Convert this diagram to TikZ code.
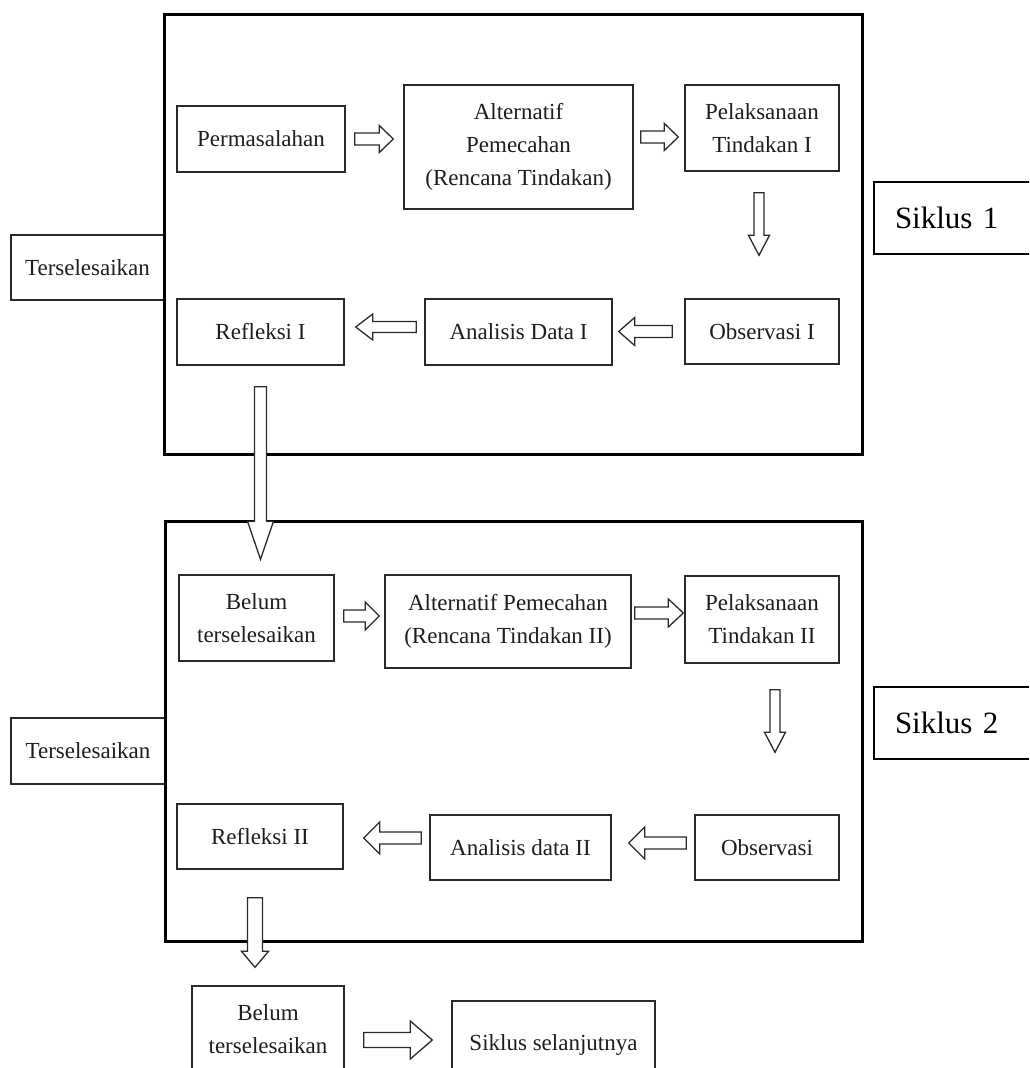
\documentclass[tikz,border=0pt]{standalone}
\usepackage{fontspec}
\setmainfont{Liberation Serif}
\usetikzlibrary{calc}
\definecolor{boxc}{HTML}{2A2A2A}
\definecolor{txt}{HTML}{1E1E1E}
\tikzset{
  box/.style={draw=boxc, line width=1.4pt, align=center, inner sep=0pt, text=txt,
    font=\fontsize{23}{33}\selectfont},
  frame/.style={draw=black, line width=3pt, inner sep=0pt},
  sik/.style={draw=black, line width=2pt, inner xsep=21pt, inner ysep=0pt, align=left,
    font=\fontsize{31}{36}\selectfont, anchor=west, minimum height=72pt},
  barrow/.style={draw=boxc, line width=1.3pt, fill=white, line join=miter},
  rarr/.style n args={3}{to path={let \p1=(\tikztostart),\p2=(\tikztotarget) in
    (\x1,\y1+#1) -- (\x2-#3,\y1+#1) -- (\x2-#3,\y1+#2) -- (\x2,\y1) -- (\x2-#3,\y1-#2) -- (\x2-#3,\y1-#1) -- (\x1,\y1-#1) -- cycle}},
  larr/.style n args={3}{to path={let \p1=(\tikztostart),\p2=(\tikztotarget) in
    (\x1,\y1+#1) -- (\x2+#3,\y1+#1) -- (\x2+#3,\y1+#2) -- (\x2,\y1) -- (\x2+#3,\y1-#2) -- (\x2+#3,\y1-#1) -- (\x1,\y1-#1) -- cycle}},
  darr/.style n args={3}{to path={let \p1=(\tikztostart),\p2=(\tikztotarget) in
    (\x1+#1,\y1) -- (\x1+#1,\y2+#3) -- (\x1+#2,\y2+#3) -- (\x1,\y2) -- (\x1-#2,\y2+#3) -- (\x1-#1,\y2+#3) -- (\x1-#1,\y1) -- cycle}},
}
\begin{document}
\begin{tikzpicture}[x=1pt,y=-1pt]
\clip (0,0) rectangle (1029,1068);
\fill[white] (0,0) rectangle (1029,1068);

% side boxes
\node[box, minimum width=153pt, minimum height=65pt] (ter1) at (87.5,267.5) {Terselesaikan};
\node[box, minimum width=154pt, minimum height=66pt] (ter2) at (88,751) {Terselesaikan};

% frames
\node[frame, minimum width=698pt, minimum height=440pt] (frame1) at (513,234) {};
\node[frame, minimum width=697pt, minimum height=420pt] (frame2) at (513.5,731) {};

% cycle labels
\node[sik, text width=123pt] (sik1) at (873,218) {Siklus 1};
\node[sik, text width=123pt] (sik2) at (873,722.5) {Siklus 2};

% cycle 1
\node[box, minimum width=168pt, minimum height=66pt] (perm) at (261,139) {Permasalahan};
\node[box, minimum width=229pt, minimum height=124pt] (alt1) at (518.5,147) {Alternatif\\Pemecahan\\(Rencana Tindakan)};
\node[box, minimum width=154pt, minimum height=86pt] (pel1) at (762,128) {Pelaksanaan\\Tindakan I};
\node[box, minimum width=154pt, minimum height=65pt] (obs1) at (762,331.5) {Observasi I};
\node[box, minimum width=187pt, minimum height=66pt] (ana1) at (518.5,332) {Analisis Data I};
\node[box, minimum width=167pt, minimum height=66pt] (ref1) at (260.5,332) {Refleksi I};

% cycle 2
\node[box, minimum width=155pt, minimum height=86pt] (bel1) at (256.5,618) {Belum\\terselesaikan};
\node[box, minimum width=246pt, minimum height=93pt] (alt2) at (508,621.5) {Alternatif Pemecahan\\(Rencana Tindakan II)};
\node[box, minimum width=154pt, minimum height=87pt] (pel2) at (762,619.5) {Pelaksanaan\\Tindakan II};
\node[box, minimum width=144pt, minimum height=65pt] (obs2) at (767,847.5) {Observasi};
\node[box, minimum width=181pt, minimum height=65pt] (ana2) at (520.5,847.5) {Analisis data II};
\node[box, minimum width=166pt, minimum height=65pt] (ref2) at (260,836.5) {Refleksi II};

% bottom
\node[box, minimum width=152pt, minimum height=86pt] (bel2) at (268,1029) {Belum\\terselesaikan};
\node[box, minimum width=203pt, minimum height=88pt] (sel) at (553.5,1045) {Siklus selanjutnya};

% arrows cycle 1
\draw[barrow, rarr={6pt}{13.5pt}{14pt}] ($(perm.east)+(9,0)$) to ($(alt1.west)+(-10,0)$);
\draw[barrow, rarr={6pt}{13.5pt}{14pt}] ($(alt1.east)+(7,-10)$) to ($(pel1.west)+(-6,0)$);
\draw[barrow, darr={5pt}{10.5pt}{20pt}] ($(pel1.south)+(-3,21)$) to ($(obs1.north)+(-3,-43)$);
\draw[barrow, larr={6pt}{14pt}{16pt}] ($(obs1.west)+(-12,0)$) to ($(ana1.east)+(6,0)$);
\draw[barrow, larr={5.5pt}{13pt}{17pt}] ($(ana1.west)+(-8,-5)$) to ($(ref1.east)+(11,0)$);

% arrow between cycles
\draw[barrow, darr={6pt}{13pt}{38pt}] ($(ref1.south)+(0,21)$) to ($(bel1.north)+(4,-15)$);

% arrows cycle 2
\draw[barrow, rarr={6pt}{14pt}{14pt}] ($(bel1.east)+(9,-2)$) to ($(alt2.west)+(-5,0)$);
\draw[barrow, rarr={6pt}{14pt}{15pt}] ($(alt2.east)+(3,-8.5)$) to ($(pel2.west)+(-1,0)$);
\draw[barrow, darr={5pt}{10.5pt}{20pt}] ($(pel2.south)+(13,26)$) to ($(obs2.north)+(8,-62)$);
\draw[barrow, larr={6pt}{16pt}{16pt}] ($(obs2.west)+(-8,-4.5)$) to ($(ana2.east)+(17,0)$);
\draw[barrow, larr={6pt}{16pt}{16pt}] ($(ana2.west)+(-8,-9.5)$) to ($(ref2.east)+(20,0)$);

% bottom arrows
\draw[barrow, darr={7.5pt}{13.5pt}{16pt}] ($(ref2.south)+(-5,28)$) to ($(bel2.north)+(0,-18)$);
\draw[barrow, rarr={7.5pt}{19pt}{22pt}] ($(bel2.east)+(19,11)$) to ($(sel.west)+(-19,0)$);
\end{tikzpicture}
\end{document}
